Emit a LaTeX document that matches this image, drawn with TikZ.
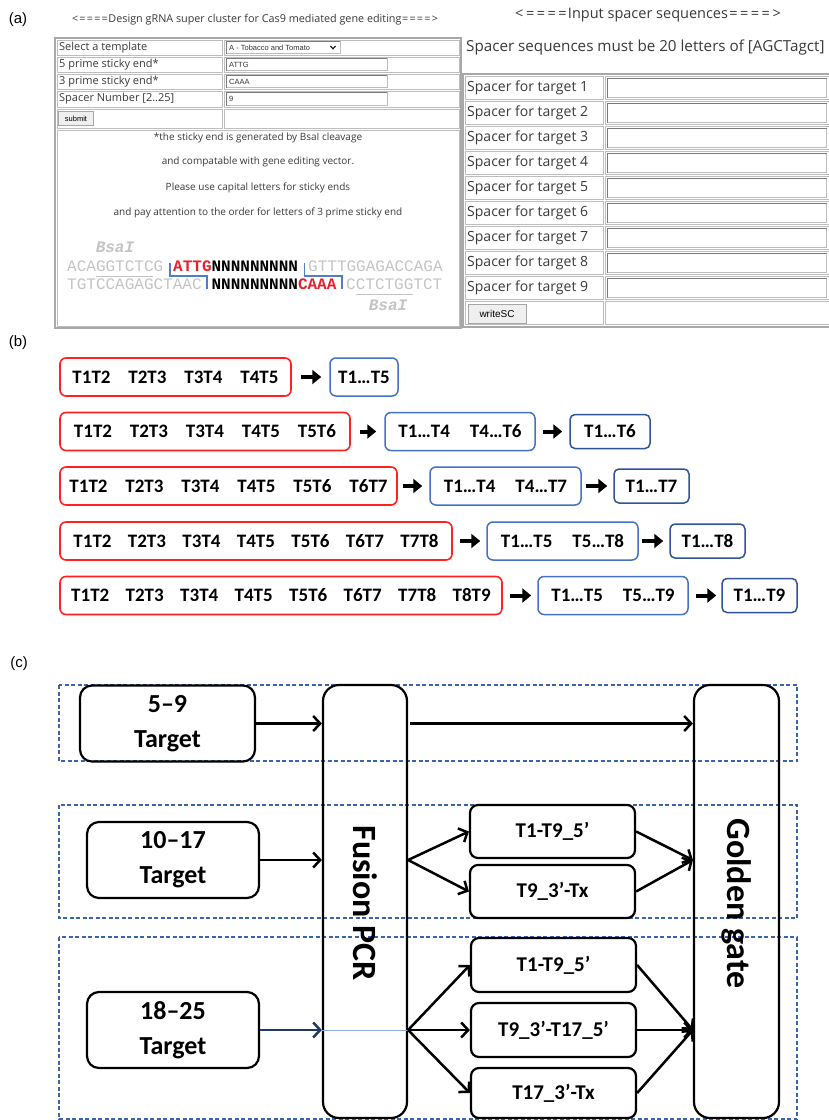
\documentclass[tikz,border=0pt]{standalone}
\usepackage{fontspec}
\setmainfont{Open Sans}
\newfontfamily\arialf{Liberation Sans}
\newfontfamily\monof{Liberation Mono}
\newfontfamily\calf{Carlito}
\usetikzlibrary{arrows.meta}
\definecolor{framegray}{HTML}{A8A8A8}
\definecolor{cellgray}{HTML}{BDBDBD}
\definecolor{inputdark}{HTML}{7A7A7A}
\definecolor{txtgray}{HTML}{3A3A3A}
\definecolor{seqgray}{HTML}{C4C4C4}
\definecolor{seqred}{HTML}{E5212B}
\definecolor{brkblue}{HTML}{4F7FC8}
\definecolor{boxred}{HTML}{FF2020}
\definecolor{boxblue}{HTML}{4472C4}
\definecolor{boxdblue}{HTML}{2F5597}
\definecolor{dashblue}{HTML}{3B64AD}
\definecolor{navy}{HTML}{1F3864}
\definecolor{lightline}{HTML}{8FAADC}
\definecolor{btnfill}{HTML}{EFEFEF}
\newcommand{\tk}[1]{\makebox[56pt]{#1}}
\newcommand{\tn}[1]{\makebox[54.5pt]{#1}}
\newcommand{\wq}[1]{\makebox[10.8pt]{#1}}
\newcommand{\wl}[1]{\makebox[7.4pt]{#1}}
\tikzset{
  panellabel/.style={font=\arialf\fontsize{15}{17}\selectfont, inner sep=0},
  webtitle/.style={font=\fontsize{10.8}{12}\selectfont, text=txtgray, inner sep=0},
  ltab/.style={font=\fontsize{11}{13}\selectfont, text=txtgray, anchor=west, inner sep=0},
  inp/.style={font=\arialf\fontsize{7.5}{8}\selectfont, text=black!80, anchor=west, inner sep=0},
  note/.style={font=\fontsize{10}{12}\selectfont, text=txtgray, inner sep=0},
  seq/.style={font=\monof\fontsize{16}{18}\selectfont, anchor=base west, inner sep=0},
  cellbox/.style={draw=cellgray, line width=0.8pt},
  framebox/.style={draw=framegray, line width=1.4pt},
  rtab/.style={font=\fontsize{14}{16}\selectfont, text=txtgray, anchor=west, inner sep=0},
  btn/.style={draw=gray!70, fill=btnfill, line width=0.6pt, inner sep=0, font=\arialf\fontsize{7.5}{8}\selectfont},
  tokf/.style={font=\calf\bfseries\fontsize{19}{21}\selectfont},
  rbox/.style={draw=boxred, line width=1.6pt, rounded corners=6pt, inner sep=0, minimum height=38pt, tokf},
  bbox/.style={draw=boxblue, line width=1.5pt, rounded corners=6pt, inner sep=0, minimum height=38pt, tokf},
  dbox/.style={draw=boxdblue, line width=1.5pt, rounded corners=5pt, inner sep=0, minimum height=34pt, tokf},
  barrow/.style={line width=4pt, -{Triangle[length=9pt,width=14pt]}, shorten <=9pt, shorten >=8pt},
  tgt/.style={draw, line width=2.2pt, rounded corners=12pt, inner sep=0, align=center, font=\calf\bfseries\fontsize{26}{35}\selectfont},
  tall/.style={draw, line width=2.2pt, rounded corners=16pt, inner sep=0},
  mid/.style={draw, line width=2.2pt, rounded corners=8pt, inner sep=0, font=\calf\bfseries\fontsize{21}{24}\selectfont},
  carrow/.style={line width=2.5pt, -{Straight Barb[length=7pt,width=15pt]}},
  dashrect/.style={draw=dashblue, line width=1.3pt, dash pattern=on 4pt off 2.5pt},
  vtext/.style={rotate=-90, font=\calf\bfseries\fontsize{34}{36}\selectfont, inner sep=0},
}
\begin{document}
\begin{tikzpicture}[x=1pt,y=-1pt]
\useasboundingbox (0,0) rectangle (829,1120);
\fill[white] (0,0) rectangle (829,1120);
\begin{scope}
\clip (0,0) rectangle (829,1120);
% ---------------- (a) ----------------
\node[panellabel] (la) at (18,20) {(a)};
\node[webtitle] (ltitle) at (255,20) {\wl{<}\wl{=}\wl{=}\wl{=}\wl{=}Design gRNA super cluster for Cas9 mediated gene editing\wl{=}\wl{=}\wl{=}\wl{=}\wl{>}};
% left table
\draw[framebox] (55,38) rectangle (461,328);
\foreach \ya/\yb in {40/55,57/72,74/89,91/107,109/128}{
  \draw[cellbox] (57,\ya) rectangle (222,\yb);
  \draw[cellbox] (224,\ya) rectangle (459,\yb);
}
\draw[cellbox] (57,130) rectangle (459,326);
\node[ltab] (sel) at (59,47.5) {Select a template};
\node[ltab] (p5) at (59,64.5) {5 prime sticky end*};
\node[ltab] (p3) at (59,81.5) {3 prime sticky end*};
\node[ltab] (spn) at (59,99) {Spacer Number [2..25]};
% dropdown
\draw[cellbox] (226,41.5) rectangle (340,53.5);
\draw[inputdark, line width=0.6pt] (226,53.5) -- (226,41.5) -- (340,41.5);
\node[inp] (tmpl) at (229,47.5) {A - Tobacco and Tomato};
\draw[line width=1pt] (330.5,46) -- (333,48.8) -- (335.5,46);
% inputs
\foreach \ya/\yb/\yc/\txt/\nm in {58.5/70.5/64.5/ATTG/i5,75.5/87.5/81.5/CAAA/i3,92.5/105.5/99/9/isn}{
  \draw[cellbox] (226,\ya) rectangle (387,\yb);
  \draw[inputdark, line width=0.8pt] (226,\yb) -- (226,\ya) -- (387,\ya);
  \node[inp] (\nm) at (229,\yc) {\txt};
}
\node[btn, minimum width=35pt, minimum height=14pt] (sub) at (76,118.5) {submit};
% notes
\node[note] (n1) at (258,138) {*the sticky end is generated by BsaI cleavage};
\node[note] (n2) at (258,162) {and compatable with gene editing vector.};
\node[note] (n3) at (258,188) {Please use capital letters for sticky ends};
\node[note] (n4) at (258,213) {and pay attention to the order for letters of 3 prime sticky end};
% sequence
\node[seq, anchor=center, font=\monof\bfseries\itshape\fontsize{16}{18}\selectfont, text=seqgray] (bs1) at (115,247) {BsaI};
\node[seq, text=seqgray] (s1a) at (67,271) {ACAGGTCTCG};
\node[seq, text=seqred, font=\monof\bfseries\fontsize{16}{18}\selectfont] (s1b) at (173,271) {ATTG};
\node[seq, font=\monof\bfseries\fontsize{16}{18}\selectfont] (s1c) at (211.4,271) {NNNNNNNNN};
\node[seq, text=seqgray] (s1d) at (308,271) {GTTTGGAGACCAGA};
\node[seq, text=seqgray] (s2a) at (67,289) {TGTCCAGAGCTAAC};
\node[seq, font=\monof\bfseries\fontsize{16}{18}\selectfont] (s2b) at (211.4,289) {NNNNNNNNN};
\node[seq, text=seqred, font=\monof\bfseries\fontsize{16}{18}\selectfont] (s2c) at (297.8,289) {CAAA};
\node[seq, text=seqgray] (s2d) at (346,289) {CCTCTGGTCT};
\node[seq, anchor=center, font=\monof\bfseries\itshape\fontsize{16}{18}\selectfont, text=seqgray] (bs2) at (388,305) {BsaI};
\draw[seqgray, line width=0.8pt] (95.8,276) -- (153.4,276);
\draw[seqgray, line width=0.8pt] (355.6,294) -- (413.2,294);
\draw[brkblue, line width=1.2pt] (170,263) -- (170,276) -- (207,276) -- (207,289);
\draw[brkblue, line width=1.2pt] (304.5,263) -- (304.5,276) -- (342,276) -- (342,289);
% right panel
\node[webtitle, font=\fontsize{14.5}{16}\selectfont] (rtitle) at (648,15) {\wq{<}\wq{=}\wq{=}\wq{=}\wq{=}Input spacer sequences\wq{=}\wq{=}\wq{=}\wq{=}\wq{>}};
\node[rtab, font=\fontsize{15.2}{17}\selectfont] (rsub) at (466,48) {Spacer sequences must be 20 letters of [AGCTagct]};
\draw[framebox] (463,74) rectangle (832,327);
\foreach \i in {1,...,9}{
  \pgfmathsetmacro\cy{88+25*(\i-1)}
  \draw[cellbox] (465,{\cy-11.5}) rectangle (603,{\cy+11.5});
  \draw[cellbox] (605,{\cy-11.5}) rectangle (830,{\cy+11.5});
  \draw[cellbox] (607.5,{\cy-9.5}) rectangle (826.5,{\cy+9.5});
  \draw[inputdark, line width=0.8pt] (607.5,{\cy+9.5}) -- (607.5,{\cy-9.5}) -- (826.5,{\cy-9.5});
  \node[rtab] (sp\i) at (467,\cy) {Spacer for target \i};
}
\draw[cellbox] (465,301.5) rectangle (603,324.5);
\draw[cellbox] (605,301.5) rectangle (830,324.5);
\node[btn, minimum width=58pt, minimum height=19pt, font=\arialf\fontsize{10}{12}\selectfont] (wsc) at (497,313.5) {writeSC};
% ---------------- (b) ----------------
\node[panellabel] (lb) at (18,343) {(b)};
\node[rbox, minimum width=231pt] (r1) at (175.5,377) {\tk{T1T2}\tk{T2T3}\tk{T3T4}\tk{T4T5}};
\node[bbox, minimum width=68pt] (b1) at (364,377) {T1…T5};
\draw[barrow] (r1) -- (b1);
\node[rbox, minimum width=290pt] (r2) at (205,431.5) {\tk{T1T2}\tk{T2T3}\tk{T3T4}\tk{T4T5}\tk{T5T6}};
\node[bbox, minimum width=150pt] (b2) at (460,431.5) {T1…T4\hspace{20pt}T4…T6};
\node[dbox, minimum width=80pt] (d2) at (610,431.5) {T1…T6};
\draw[barrow] (r2) -- (b2);
\draw[barrow, shorten <=7pt, shorten >=7pt] (b2) -- (d2);
\node[rbox, minimum width=337pt] (r3) at (228.5,486) {\tk{T1T2}\tk{T2T3}\tk{T3T4}\tk{T4T5}\tk{T5T6}\tk{T6T7}};
\node[bbox, minimum width=151pt] (b3) at (505.5,486) {T1…T4\hspace{20pt}T4…T7};
\node[dbox, minimum width=75pt] (d3) at (651.5,486) {T1…T7};
\draw[barrow, shorten <=5pt, shorten >=7pt] (r3) -- (b3);
\draw[barrow, shorten <=4pt, shorten >=6pt] (b3) -- (d3);
\node[rbox, minimum width=392pt] (r4) at (256,541) {\tn{T1T2}\tn{T2T3}\tn{T3T4}\tn{T4T5}\tn{T5T6}\tn{T6T7}\tn{T7T8}};
\node[bbox, minimum width=151pt] (b4) at (562.5,541) {T1…T5\hspace{20pt}T5…T8};
\node[dbox, minimum width=75pt] (d4) at (707.5,541) {T1…T8};
\draw[barrow, shorten <=7pt, shorten >=6pt] (r4) -- (b4);
\draw[barrow, shorten <=3pt, shorten >=6pt] (b4) -- (d4);
\node[rbox, minimum width=442pt] (r5) at (281,595.5) {\tn{T1T2}\tn{T2T3}\tn{T3T4}\tn{T4T5}\tn{T5T6}\tn{T6T7}\tn{T7T8}\tn{T8T9}};
\node[bbox, minimum width=150pt] (b5) at (613,595.5) {T1…T5\hspace{20pt}T5…T9};
\node[dbox, minimum width=75pt] (d5) at (759.5,595.5) {T1…T9};
\draw[barrow, shorten <=7pt, shorten >=6pt] (r5) -- (b5);
\draw[barrow, shorten <=7pt, shorten >=5pt] (b5) -- (d5);
% ---------------- (c) ----------------
\node[panellabel] (lc) at (19,664) {(c)};
\draw[dashrect] (59,685) rectangle (797,761);
\draw[dashrect] (59,805) rectangle (797,918);
\draw[dashrect] (59,937) rectangle (797,1119);
\node[tall, minimum width=84pt, minimum height=433pt] (fus) at (365,901.5) {};
\node[tall, minimum width=85pt, minimum height=433pt] (gg) at (736.5,901.5) {};
\node[vtext] (fust) at (365,903) {Fusion PCR};
\node[vtext] (ggt) at (736.5,903.5) {Golden gate};
\node[tgt, minimum width=175pt, minimum height=76pt] (t1) at (167.5,723.5) {5–9\\Target};
\node[tgt, minimum width=172pt, minimum height=76pt] (t2) at (173,860) {10–17\\Target};
\node[tgt, minimum width=172pt, minimum height=76pt] (t3) at (173,1030) {18–25\\Target};
\node[mid, minimum width=165pt, minimum height=53pt] (m21) at (552.5,831.5) {T1-T9\_5’};
\node[mid, minimum width=165pt, minimum height=53pt] (m22) at (552.5,891.5) {T9\_3’-Tx};
\node[mid, minimum width=165pt, minimum height=54pt] (m31) at (553.5,965) {T1-T9\_5’};
\node[mid, minimum width=165pt, minimum height=54pt] (m32) at (553.5,1030) {T9\_3’-T17\_5’};
\node[mid, minimum width=165pt, minimum height=50pt] (m33) at (553.5,1093) {T17\_3’-Tx};
% row 1
\draw[carrow] (t1.east) -- (t1.east -| fus.west);
\coordinate (f1) at ([xshift=2pt]t1.east -| fus.east);
\draw[carrow] (f1) -- (t1.east -| gg.west);
% row 2
\draw[carrow] (t2.east) -- (t2.east -| fus.west);
\coordinate (f2) at (t2.east -| fus.east);
\coordinate (g2) at (t2.east -| gg.west);
\draw[carrow] (f2) -- (m21.west);
\draw[carrow] (f2) -- (m22.west);
\draw[carrow] (m21.east) -- (g2);
\draw[carrow] (m22.east) -- (g2);
% row 3
\draw[carrow, navy] (t3.east) -- (t3.east -| fus.west);
\draw[lightline, line width=0.8pt] (t3.east -| fus.west) -- (t3.east -| fus.east);
\coordinate (f3) at (t3.east -| fus.east);
\coordinate (g3) at (t3.east -| gg.west);
\draw[carrow] (f3) -- (m31.west);
\draw[carrow] (f3) -- (m32.west);
\draw[carrow] (f3) -- (m33.west);
\draw[carrow] (m31.east) -- (g3);
\draw[carrow] (m32.east) -- (g3);
\draw[carrow] (m33.east) -- (g3);
\end{scope}
\end{tikzpicture}
\end{document}
